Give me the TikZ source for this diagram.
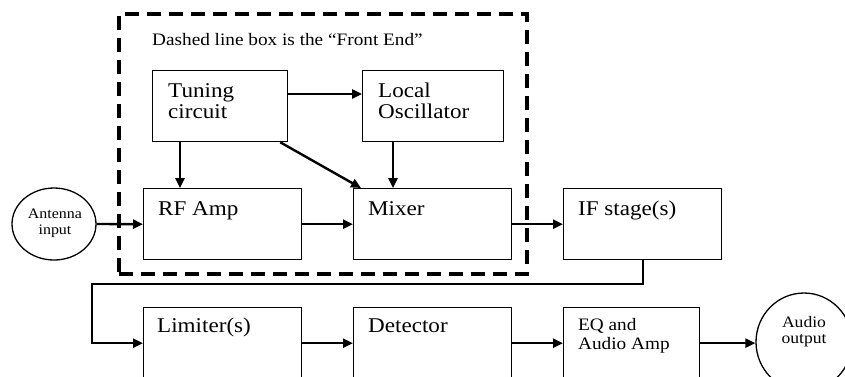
\documentclass[tikz,border=0pt]{standalone}
\usepackage{fontspec}
\setmainfont{Liberation Serif}[FakeStretch=1.1]
\usetikzlibrary{arrows.meta,shapes.geometric}
\begin{document}
\begin{tikzpicture}[x=1pt,y=-1pt,
  box/.style={draw,line width=1.3pt,rectangle,inner sep=0pt,anchor=north west,minimum height=71pt},
  oval/.style={draw,line width=1.3pt,ellipse,inner sep=0pt},
  frontend/.style={draw,line width=3.6pt,dash pattern=on 14pt off 8pt,rectangle,inner sep=0pt,anchor=north west},
  conn/.style={line width=2.4pt,-{Triangle[length=10pt,width=9pt]}},
  lbl/.style={inner sep=0pt,anchor=base west,font=\fontsize{21}{24}\selectfont},
  slbl/.style={inner sep=0pt,anchor=base west,font=\fontsize{17.5}{20}\selectfont},
  olbl/.style={inner sep=0pt,anchor=base},
]
\useasboundingbox (0,0) rectangle (845,376);
\clip (0,0) rectangle (845,376);

% front end dashed box
\node[frontend,minimum width=408pt,minimum height=260pt] (fe) at (117,12) {};
\node[slbl] (title) at (152,45) {Dashed line box is the “Front End”};

% boxes
\node[box,minimum width=135pt] (tuning) at (152,70) {};
\node[box,minimum width=141pt] (lo) at (362,70) {};
\node[box,minimum width=158pt] (rf) at (143,188) {};
\node[box,minimum width=158pt] (mixer) at (353,188) {};
\node[box,minimum width=158pt] (ifs) at (563,188) {};
\node[box,minimum width=158pt] (lim) at (143,307) {};
\node[box,minimum width=158pt] (det) at (353,307) {};
\node[box,minimum width=136pt] (eq) at (563,307) {};

\node[oval,minimum width=84pt,minimum height=72pt] (ant) at (54,224) {};
\node[oval,minimum width=96pt,minimum height=98pt] (aud) at (804,342) {};

% labels
\node[lbl] (tun1) at (168,97) {Tuning};
\node[lbl] (tun2) at (168,118) {circuit};
\node[lbl] (lo1) at (378,97) {Local};
\node[lbl] (lo2) at (378,118) {Oscillator};
\node[lbl] (rft) at (158,215) {RF Amp};
\node[lbl] (mixt) at (368,215) {Mixer};
\node[lbl] (ift) at (578,215) {IF stage(s)};
\node[lbl] (limt) at (157,332) {Limiter(s)};
\node[lbl] (dett) at (368,332) {Detector};
\node[slbl] (eq1) at (578,330) {EQ and};
\node[slbl] (eq2) at (578,349) {Audio Amp};
\node[olbl,font=\fontsize{14.5}{16}\selectfont] (ant1) at (55,218) {Antenna};
\node[olbl,font=\fontsize{14.5}{16}\selectfont] (ant2) at (55,234) {input};
\node[olbl,font=\fontsize{16}{18}\selectfont] (aud1) at (804,327) {Audio};
\node[olbl,font=\fontsize{16}{18}\selectfont] (aud2) at (804,343) {output};

% connectors
\draw[conn] ([yshift=-24pt]tuning.north east) -- ([yshift=-24pt]lo.north west);
\draw[conn] ([xshift=28pt]tuning.south west) -- ([xshift=37pt]rf.north west);
\draw[conn] ([xshift=-8pt]tuning.south east) -- ([xshift=8pt]mixer.north west);
\draw[conn] ([xshift=31pt]lo.south west) -- ([xshift=40pt]mixer.north west);
\draw[conn] (ant.east) -- (rf.west);
\draw[conn] (rf.east) -- (mixer.west);
\draw[conn] (mixer.east) -- (ifs.west);
\coordinate (bend) at (92,284);
\draw[conn] ([xshift=80pt]ifs.south west) |- (bend) |- (lim.west);
\draw[conn] (lim.east) -- (det.west);
\draw[conn] (det.east) -- (eq.west);
\draw[conn] (eq.east) -- (eq.east -| aud.west);
\end{tikzpicture}
\end{document}
